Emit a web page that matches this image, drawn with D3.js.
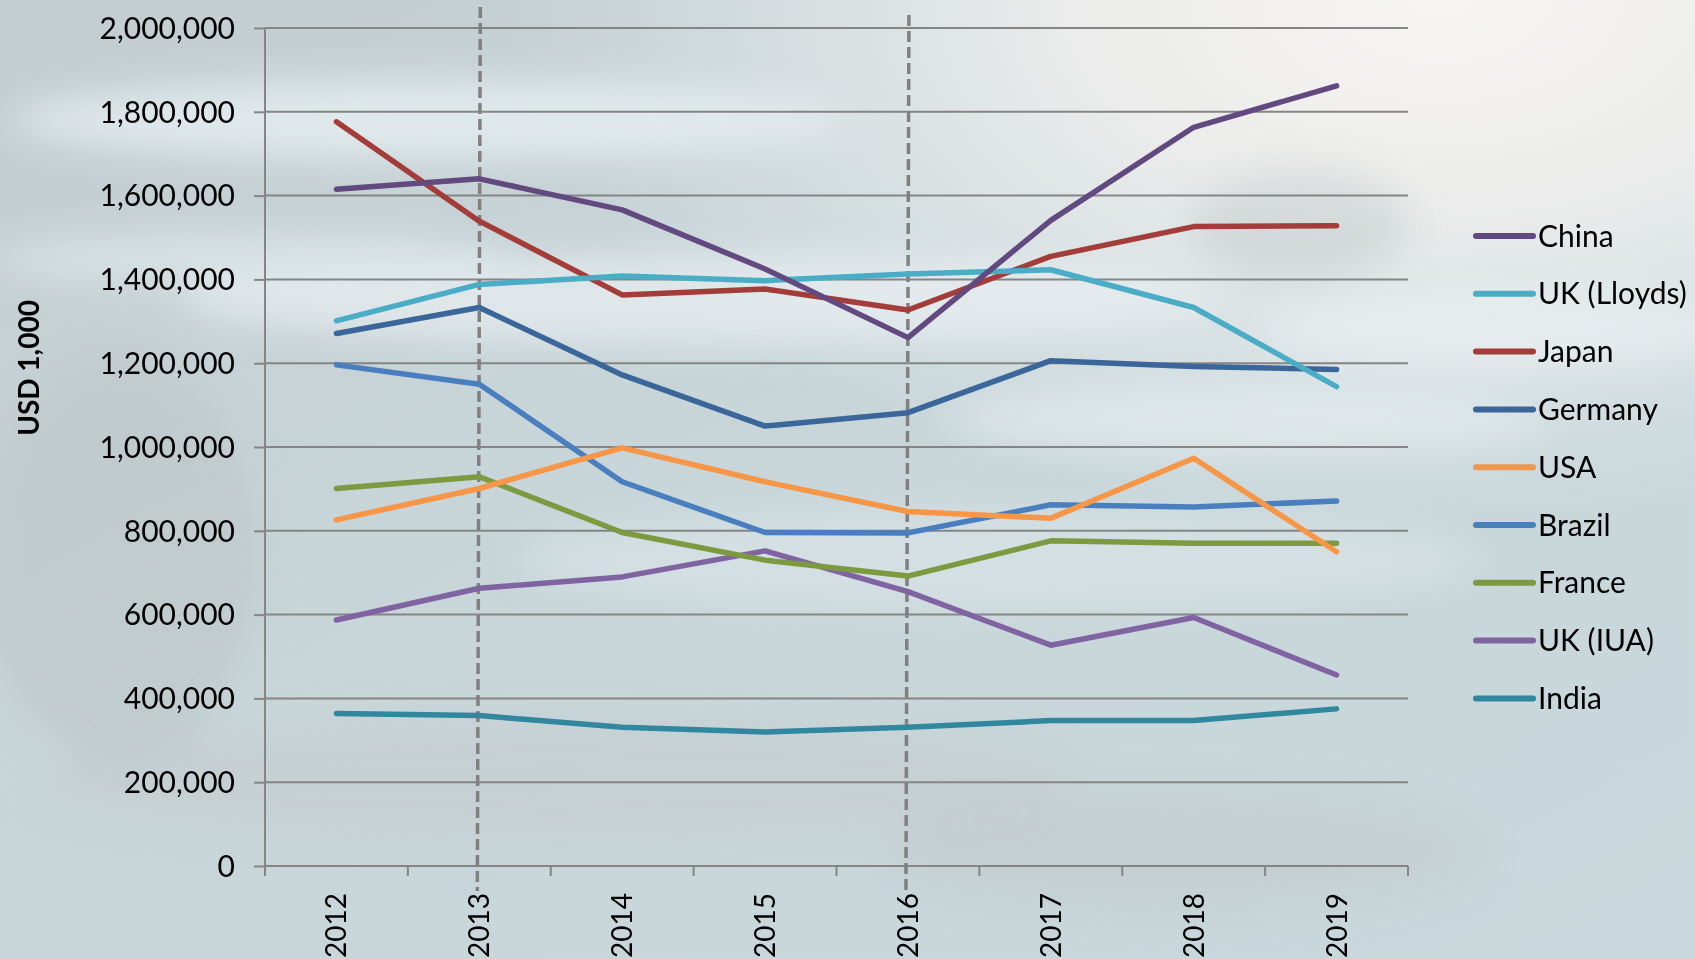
<!DOCTYPE html>
<meta charset="utf-8">
<script src="https://cdn.jsdelivr.net/npm/d3@7"></script>
<style>
body { margin: 0; overflow: hidden; }
text { font-family: Lato, "Open Sans", sans-serif; fill: #000; }
</style>
<body>
<script>
var W = 1695, H = 959;
var margin = {top: 28, right: 287, bottom: 93, left: 265};
var width = W - margin.left - margin.right,
    height = H - margin.top - margin.bottom;

var years = ["2012", "2013", "2014", "2015", "2016", "2017", "2018", "2019"];
var yTicks = [0, 200000, 400000, 600000, 800000, 1000000, 1200000, 1400000, 1600000, 1800000, 2000000];
var markYears = ["2013", "2016"];

var names = ["China", "UK (Lloyds)", "Japan", "Germany", "USA", "Brazil", "France", "UK (IUA)", "India"];
var colors = ["#62497f", "#4bacc6", "#a33d39", "#3b669a", "#f79646", "#4a7fbf", "#7c9a40", "#8064a2", "#31879e"];

var china   = [1615000, 1640000, 1566000, 1425000, 1261000, 1541000, 1763000, 1862000];
var lloyds  = [1301000, 1388000, 1408000, 1397000, 1413000, 1423000, 1333000, 1144000];
var japan   = [1776000, 1539000, 1363000, 1377000, 1327000, 1455000, 1526000, 1528000];
var germany = [1271000, 1333000, 1172000, 1050000, 1082000, 1206000, 1192000, 1185000];
var usa     = [826000, 901000, 998000, 917000, 846000, 830000, 973000, 750000];
var brazil  = [1196000, 1150000, 917000, 796000, 795000, 862000, 857000, 871000];
var france  = [901000, 929000, 796000, 730000, 692000, 776000, 770000, 770000];
var iua     = [587000, 663000, 690000, 752000, 655000, 527000, 593000, 456000];
var india   = [364000, 359000, 331000, 320000, 331000, 347000, 347000, 375000];

var series = [china, lloyds, japan, germany, usa, brazil, france, iua, india].map(function(v, i) {
  return {name: names[i], color: colors[i], values: v};
});

var svg = d3.select("body").append("svg")
    .attr("width", W)
    .attr("height", H);

// background: watery photo look
var defs = svg.append("defs");
var base = defs.append("linearGradient").attr("id", "base")
    .attr("x1", 0).attr("y1", 0).attr("x2", 1).attr("y2", 1);
base.append("stop").attr("offset", "0%").attr("stop-color", "#c4cdd0");
base.append("stop").attr("offset", "45%").attr("stop-color", "#c8d6da");
base.append("stop").attr("offset", "100%").attr("stop-color", "#c9d8dc");

var glow = defs.append("radialGradient").attr("id", "glow")
    .attr("cx", 0.85).attr("cy", 0.0).attr("r", 0.55);
glow.append("stop").attr("offset", "0%").attr("stop-color", "#f8f5f2").attr("stop-opacity", 1);
glow.append("stop").attr("offset", "40%").attr("stop-color", "#f1f0ee").attr("stop-opacity", 0.85);
glow.append("stop").attr("offset", "100%").attr("stop-color", "#e4ecee").attr("stop-opacity", 0);

defs.append("filter").attr("id", "blur")
    .attr("x", "-50%").attr("y", "-50%").attr("width", "200%").attr("height", "200%")
  .append("feGaussianBlur").attr("stdDeviation", 18);

svg.append("rect").attr("width", W).attr("height", H).attr("fill", "url(#base)");
svg.append("rect").attr("width", W).attr("height", H).attr("fill", "url(#glow)");

var streaks = [
  [430, 120, 420, 40, "#e6eef0", 0.8],
  [700, 300, 520, 45, "#e9f0f2", 0.7],
  [250, 260, 260, 28, "#e3ecef", 0.6],
  [1000, 560, 480, 50, "#dfe8eb", 0.55],
  [1250, 420, 300, 35, "#e8eef0", 0.6],
  [1300, 225, 110, 55, "#b8c3c5", 0.4],
  [1500, 330, 240, 40, "#eef2f3", 0.6],
  [560, 780, 520, 60, "#c2c6c6", 0.35],
  [120, 560, 140, 200, "#bcc4c4", 0.5],
  [1180, 850, 300, 60, "#bfc6c7", 0.4]
];
svg.append("g").attr("filter", "url(#blur)")
  .selectAll("ellipse").data(streaks).enter().append("ellipse")
    .attr("cx", function(d) { return d[0]; })
    .attr("cy", function(d) { return d[1]; })
    .attr("rx", function(d) { return d[2]; })
    .attr("ry", function(d) { return d[3]; })
    .attr("fill", function(d) { return d[4]; })
    .attr("opacity", function(d) { return d[5]; });

var g = svg.append("g")
    .attr("transform", "translate(" + margin.left + "," + margin.top + ")");

var x = d3.scaleBand().domain(years).range([0, width]);
var y = d3.scaleLinear().domain([0, 2000000]).range([height, 0]);
var cx = function(d) { return x(d) + x.bandwidth() / 2; };

// gridlines
g.append("g")
  .selectAll("line").data(yTicks.slice(1)).enter().append("line")
    .attr("x1", 0).attr("x2", width)
    .attr("y1", function(d) { return y(d); })
    .attr("y2", function(d) { return y(d); })
    .attr("stroke", "#858585")
    .attr("stroke-width", 2);

var yAxis = d3.axisLeft(y)
    .tickValues(yTicks)
    .tickSize(11)
    .tickPadding(19)
    .tickFormat(d3.format(","));

var ya = g.append("g").call(yAxis);
ya.select(".domain").remove();
ya.selectAll("line").attr("stroke", "#858585").attr("stroke-width", 2);
ya.selectAll("text").style("font-size", "30px").attr("dy", "0.34em").style("fill", "#000");
g.append("line")
    .attr("x1", 0).attr("x2", 0).attr("y1", 0).attr("y2", height)
    .attr("stroke", "#858585").attr("stroke-width", 2);

// x axis
g.append("line")
    .attr("x1", 0).attr("x2", width).attr("y1", height).attr("y2", height)
    .attr("stroke", "#858585").attr("stroke-width", 2);
var bounds = years.map(function(d) { return x(d); }).concat([width]);
g.selectAll(".xtick").data(bounds).enter().append("line")
    .attr("class", "xtick")
    .attr("x1", function(d) { return d; }).attr("x2", function(d) { return d; })
    .attr("y1", height).attr("y2", height + 10)
    .attr("stroke", "#858585").attr("stroke-width", 2);

g.selectAll(".xlab").data(years).enter().append("text")
    .attr("class", "xlab")
    .attr("transform", function(d) { return "translate(" + (cx(d) + 10) + "," + (height + 27) + ") rotate(-90)"; })
    .style("text-anchor", "end")
    .style("font-size", "28px")
    .text(function(d) { return d; });

// dashed markers
g.selectAll(".mark").data(markYears).enter().append("line")
    .attr("class", "mark")
    .attr("x1", function(d) { return cx(d) + 1; })
    .attr("x2", function(d) { return cx(d) - 2; })
    .attr("y1", function(d, i) { return i == 0 ? -21 : -13; })
    .attr("y2", height + 25)
    .attr("stroke", "#808080")
    .attr("stroke-width", 3.5)
    .attr("stroke-dasharray", "11,5");

// lines
var line = d3.line()
    .x(function(d, i) { return cx(years[i]); })
    .y(function(d) { return y(d); });

g.selectAll(".series").data(series.slice().reverse()).enter().append("path")
    .attr("class", "series")
    .attr("d", function(d) { return line(d.values); })
    .attr("fill", "none")
    .attr("stroke", function(d) { return d.color; })
    .attr("stroke-width", 5.5)
    .attr("stroke-linejoin", "round")
    .attr("stroke-linecap", "round");

// y title
svg.append("text")
    .attr("transform", "translate(39,368) rotate(-90)")
    .style("text-anchor", "middle")
    .style("font-size", "28px")
    .style("font-weight", "bold")
    .text("USD 1,000");

// legend
var legend = svg.selectAll(".legend").data(series).enter().append("g")
    .attr("class", "legend")
    .attr("transform", function(d, i) { return "translate(1476," + (236 + i * 57.8) + ")"; });

legend.append("line")
    .attr("x1", 0).attr("x2", 57)
    .attr("stroke", function(d) { return d.color; })
    .attr("stroke-width", 6)
    .attr("stroke-linecap", "round");

legend.append("text")
    .attr("x", 62)
    .attr("dy", "0.35em")
    .style("font-size", "30px")
    .text(function(d) { return d.name; });
</script>
</body>
